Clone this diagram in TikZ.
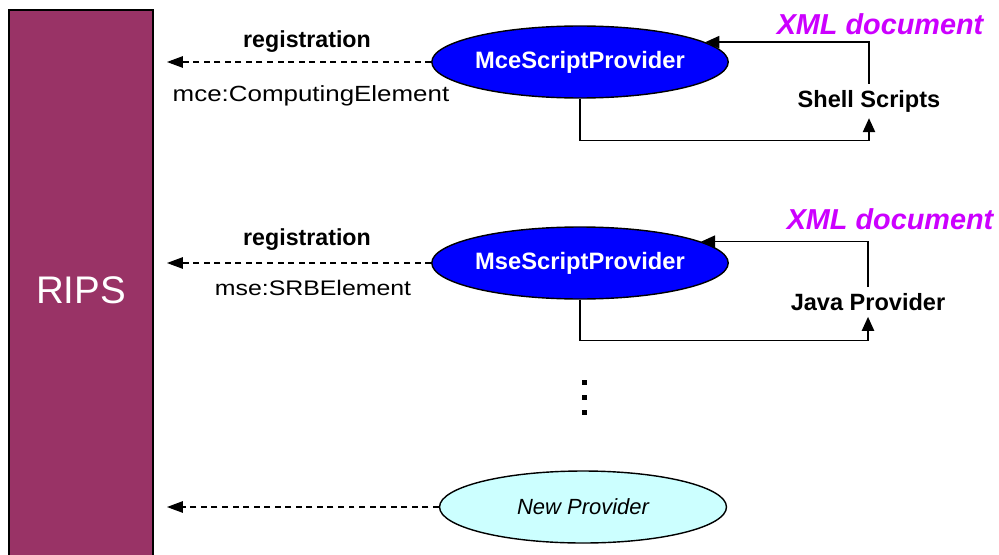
\documentclass[tikz,border=0pt]{standalone}
\usepackage{fontspec}
\setmainfont{Liberation Sans}
\usetikzlibrary{shapes.geometric,arrows.meta}
\definecolor{ripsred}{RGB}{153,51,102}
\definecolor{xmlpink}{RGB}{204,0,255}
\definecolor{newcyan}{RGB}{204,255,255}

\begin{document}
\begin{tikzpicture}[x=0.02cm,y=-0.02cm]
    \tikzstyle{provider}=[
        ellipse,
        draw = black,
        line width = 0.8pt,
        fill = blue,
        text = white,
        font = \fontsize{13.5}{16}\selectfont\bfseries,
        minimum width = 5.74cm,
        minimum height = 1.44cm,
        inner sep = 0pt
    ]
    \tikzstyle{tool}=[font = \fontsize{13.4}{16}\selectfont\bfseries]
    \tikzstyle{xml}=[text = xmlpink, font = \fontsize{16.4}{19}\selectfont\bfseries\itshape]
    \tikzstyle{reg}=[font = \fontsize{13.2}{16}\selectfont\bfseries]
    \tikzstyle{element}=[transform shape, xscale = 1.18]
    \tikzstyle{regline}=[dashed, dash pattern = on 3.4pt off 2.6pt, line width = 0.7pt, -{Triangle[length=9pt,width=6.5pt]}]
    \tikzstyle{flow}=[line width = 0.9pt, -{Triangle[length=8pt,width=7pt]}]

    \useasboundingbox (0,0) rectangle (999,554);
    \clip (0,0) rectangle (999,554);

	\node[draw = black, line width = 0.8pt, fill = ripsred, text = white,
	      font = \fontsize{21.9}{26}\selectfont,
	      minimum width = 2.88cm, minimum height = 11.2cm] (rips) at (81,290) {RIPS};

	\node[provider] (mce) at (580,62)  {MceScriptProvider};
	\node[provider] (mse) at (580,263) {MseScriptProvider};
	\node[provider, fill = newcyan, text = black,
	      font = \fontsize{12.5}{15}\selectfont\itshape] (newp) at (583,507) {New Provider};

	\node[tool] (shell) at (869,101) {Shell Scripts};
	\node[tool] (java)  at (868,302) {Java Provider};
	\node[xml]  (xml1)  at (880,24)  {XML document};
	\node[xml]  (xml2)  at (890,219) {XML document};

	\node[reg] (reg1) at (307,42)  {registration};
	\node[reg] (reg2) at (307,240) {registration};
	\node[element, font = \fontsize{12.5}{15}\selectfont] (elem1) at (311,96)  {mce:ComputingElement};
	\node[element, font = \fontsize{12}{14}\selectfont] (elem2) at (313,288) {mse:SRBElement};

	\coordinate (in1) at (167,62);
	\coordinate (in2) at (167,263);
	\coordinate (in3) at (167,507);

	% registration at RIPS
	\draw[regline] (mce)  -- (in1);
	\draw[regline] (mse)  -- (in2);
	\draw[regline] (newp) -- (in3);

	% providers and their back ends
	\draw[flow] (mce.south) -- ++(0,42) -| (shell.south);
	\draw[flow] (shell.north) |- (mce.9);
	\draw[flow] (mse.south) -- ++(0,41) -| (java.south);
	\draw[flow] (java.north) |- (mse.10);

	% more providers
	\fill (582,380) rectangle ++(5,5);
	\fill (582,395) rectangle ++(5,5);
	\fill (582,410) rectangle ++(5,5);

\end{tikzpicture}
\end{document}
